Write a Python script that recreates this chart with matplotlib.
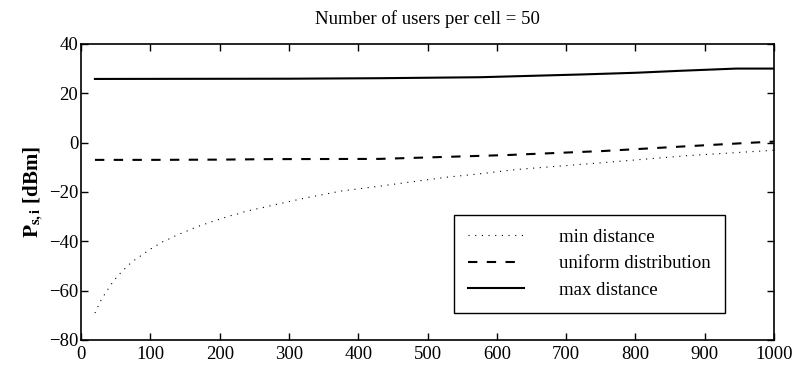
import numpy as np
import matplotlib
matplotlib.use('Agg')
import matplotlib.pyplot as plt

plt.rcParams['font.family'] = ['Liberation Serif', 'DejaVu Serif']
plt.rcParams['mathtext.fontset'] = 'stix'

# values
x_min = [20, 25, 30, 37, 43, 50, 58, 66, 74, 83, 92, 101, 110, 119, 129, 138,
         148, 158, 167, 177, 187, 197, 207, 216, 226, 236, 246, 256, 266, 276,
         326, 376, 427, 477, 528, 577, 628, 754, 874, 1000]
p_min = [-69.1, -66.0, -63.2, -60.2, -57.6, -55.0, -52.5, -50.3, -48.2, -46.5,
         -44.7, -43.0, -41.5, -40.0, -38.8, -37.5, -36.4, -35.2, -34.1, -33.2,
         -32.2, -31.3, -30.4, -29.6, -28.9, -28.0, -27.3, -26.7, -26.1, -25.4,
         -22.3, -19.6, -17.8, -15.9, -14.0, -12.6, -10.9, -8.1, -5.3, -3.1]

x_unif = [20, 100, 200, 273, 431, 513, 619, 643, 754, 860, 970, 1000]
p_unif = [-7.0, -7.0, -6.9, -6.7, -6.6, -5.9, -5.0, -4.7, -3.4, -1.7, 0.0, 0.4]

x_max = [20, 300, 431, 576, 720, 800, 864, 927, 945, 1000]
p_max = [25.8, 25.9, 26.1, 26.5, 27.6, 28.3, 29.1, 29.8, 30.0, 30.0]

fig = plt.figure(figsize=(8.03, 3.69), dpi=100)
ax = fig.add_axes([0.101, 0.0786, 0.863, 0.8024])

ax.plot(x_min, p_min, color='black', linewidth=0.8, linestyle=(0, (1, 5)),
        label='min distance')
ax.plot(x_unif, p_unif, color='black', linewidth=1.5, linestyle=(0, (4.5, 4.5)),
        label='uniform distribution')
ax.plot(x_max, p_max, color='black', linewidth=1.5, linestyle='solid',
        label='max distance')

ax.set_xlim(0, 1000)
ax.set_ylim(-80, 40)
ax.set_xticks(np.arange(0, 1001, 100))
ax.set_yticks(np.arange(-80, 41, 20))
ax.tick_params(direction='in', top=True, right=True, length=5, width=1,
               labelsize=13.5)
ax.tick_params(axis='x', pad=4)
ax.tick_params(axis='y', pad=2)
for s in ax.spines.values():
    s.set_linewidth(1.2)

ax.set_title('Number of users per cell = 50', fontsize=13.5, pad=14)
ax.set_ylabel(r'$\mathbf{P}_{\mathbf{s,i}}$ [dBm]', fontsize=15,
              fontweight='bold', labelpad=2)

leg = ax.legend(loc='lower right', bbox_to_anchor=(0.929, 0.091), fontsize=13.5,
                fancybox=False, edgecolor='black', framealpha=1,
                handlelength=3.0, handletextpad=1.85, labelspacing=0.5,
                borderpad=0.75, borderaxespad=0)
leg.get_frame().set_linewidth(1.0)

fig.savefig('out.png', dpi=100)
